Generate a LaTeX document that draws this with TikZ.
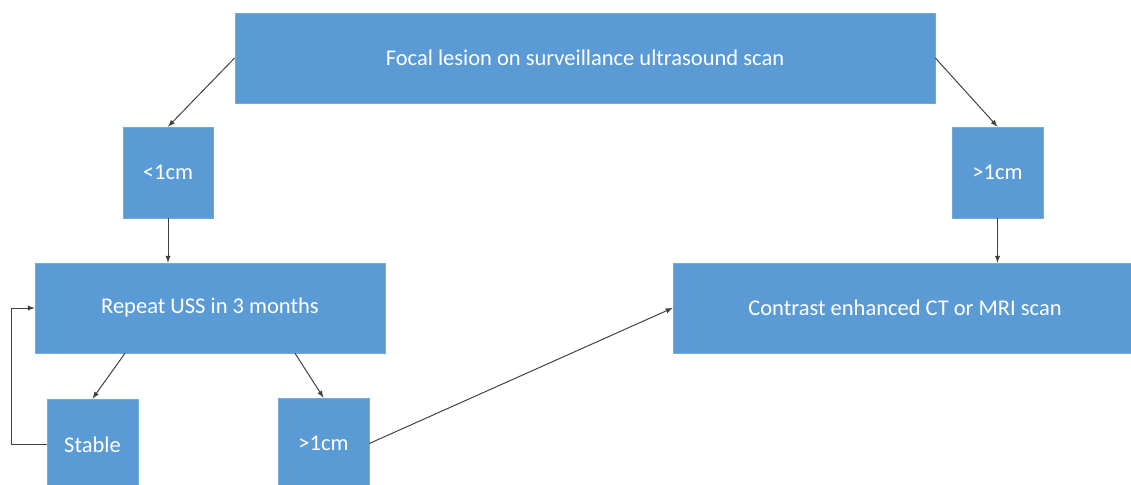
\documentclass[tikz,border=0pt]{standalone}
\usepackage{fontspec}
\setmainfont{Carlito}
\usetikzlibrary{calc}
\definecolor{boxblue}{HTML}{5B9BD5}
\definecolor{linegray}{HTML}{404040}
\begin{document}
\begin{tikzpicture}[x=0.025cm, y=-0.025cm, >=latex,
    box/.style={fill=boxblue, draw=boxblue!85!white, line width=0.4pt, text=white,
      font=\fontsize{16}{19}\selectfont, inner sep=0pt, anchor=center},
    link/.style={->, linegray, line width=0.7pt}]
    \useasboundingbox (0,0) rectangle (1131,485);
    \clip (0,0) rectangle (1131,485);

     % Riquadri
    \node[box, minimum width=17.5cm, minimum height=2.25cm] (focal) at (585,58) {Focal lesion on surveillance ultrasound scan};
    \node[box, minimum width=2.25cm, minimum height=2.275cm] (small) at (168,172.5) {<1cm};
    \node[box, minimum width=2.275cm, minimum height=2.275cm] (bigA) at (997.5,172.5) {>1cm};
    \node[box, minimum width=8.75cm, minimum height=2.25cm] (repeat) at (210,308) {Repeat USS in 3 months};
    \node[box, minimum width=11.6cm, minimum height=2.25cm] (contrast) at (905,308) {Contrast enhanced CT or MRI scan};
    \node[box, minimum width=2.275cm, minimum height=2.275cm] (stable) at (92.5,444.5) {Stable};
    \node[box, minimum width=2.275cm, minimum height=2.275cm] (bigB) at (323.5,443.5) {>1cm};

     % Frecce
    \draw[link] (focal.west) -- (small.north);
    \draw[link] (focal.east) -- (bigA.north);
    \draw[link] (small.south) -- (small.south |- repeat.north);
    \draw[link] (bigA.south) -- (bigA.south |- contrast.north);
    \draw[link] ($(repeat.south)+(-85,0)$) -- (stable.north);
    \draw[link] ($(repeat.south)+(85,0)$) -- (bigB.north);
    \draw[link] (bigB.east) -- (contrast.west);
    \draw[link] (stable.west) -- ++(-35,0) |- (repeat.west);
\end{tikzpicture}
\end{document}
